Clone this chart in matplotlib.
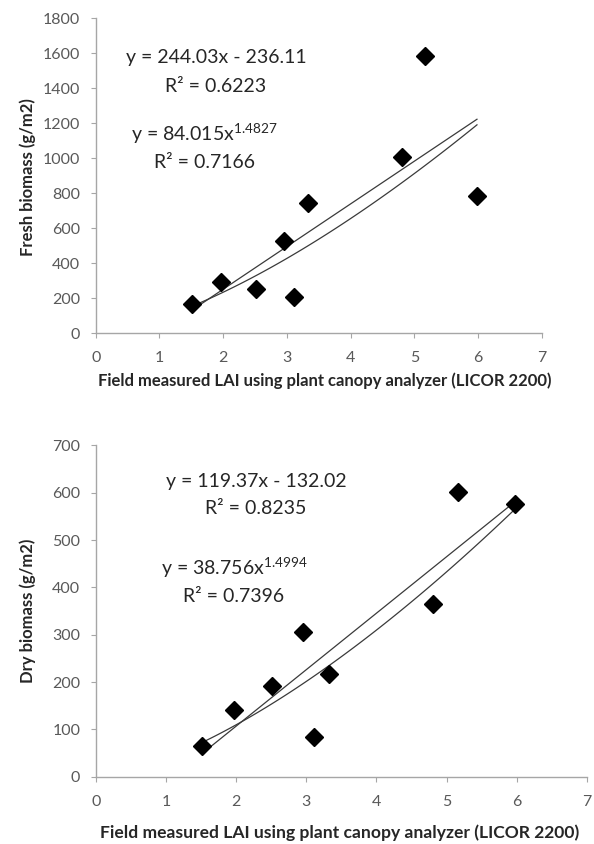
import numpy as np
import matplotlib
matplotlib.use("Agg")
import matplotlib.pyplot as plt

plt.rcParams["font.family"] = ["Lato", "DejaVu Sans"]
plt.rcParams["mathtext.fontset"] = "custom"
plt.rcParams["mathtext.rm"] = "Lato"
plt.rcParams["mathtext.it"] = "Lato"

# Field measured LAI (same plots in both panels)
lai = [1.51, 1.97, 2.51, 2.96, 3.11, 3.33, 4.80, 5.16, 5.98]
fresh = [168, 291, 255, 528, 206, 747, 1006, 1585, 785]
dry = [65, 141, 192, 306, 83, 218, 365, 602, 577]

# trend lines as printed on the chart: (a, b, R2)
fresh_lin = (244.03, -236.11, 0.6223)
fresh_pow = (84.015, 1.4827, 0.7166)
dry_lin = (119.37, -132.02, 0.8235)
dry_pow = (38.756, 1.4994, 0.7396)

xlabel = "Field measured LAI using plant canopy analyzer (LICOR 2200)"

W, H = 594, 844
fig = plt.figure(figsize=(W / 100, H / 100), dpi=100)


def px_axes(x0, x1, y0, y1):
    # pixel box -> figure fraction
    return fig.add_axes([x0 / W, 1 - y1 / H, (x1 - x0) / W, (y1 - y0) / H])


def ftext(x, y, s, **kw):
    return fig.text(x / W, 1 - y / H, s, ha="center", va="center", **kw)


def panel(ax, y, lin, pw, ymax, ystep, eq_pos):
    x = np.array(lai)
    xs = np.linspace(x.min(), x.max(), 100)
    ax.plot(xs, lin[0] * xs + lin[1], color="#3a3a3a", lw=0.9)
    ax.plot(xs, pw[0] * xs ** pw[1], color="#3a3a3a", lw=0.9)
    ax.plot(x, y, linestyle="none", marker="D", markersize=9, color="black")
    ax.set_xlim(0, 7)
    ax.set_ylim(0, ymax)
    ax.set_xticks(range(0, 8))
    ax.set_yticks(np.arange(0, ymax + 1, ystep))
    for s in ("top", "right"):
        ax.spines[s].set_visible(False)
    for s in ("left", "bottom"):
        ax.spines[s].set_color("#a6a6a6")
        ax.spines[s].set_linewidth(1.0)
    ax.tick_params(direction="out", length=3.6, color="#a6a6a6", labelsize=11.5,
                   labelcolor="#595959")
    ax.tick_params(axis="y", pad=7.5)
    ax.tick_params(axis="x", pad=9.5)

    (ex1, ey1), (ex2, ey2) = eq_pos
    kw = dict(fontsize=14, color="#262626")
    ftext(ex1, ey1, "y = {:.2f}x - {:.2f}".format(lin[0], -lin[1]), **kw)
    ftext(ex1, ey1 + 28, "R² = {:.4f}".format(lin[2]), **kw)
    ftext(ex2, ey2, "y = {}x$^{{{}}}$".format(pw[0], pw[1]), **kw)
    ftext(ex2, ey2 + 28, "R² = {:.4f}".format(pw[2]), **kw)


ax1 = px_axes(95.7, 542, 18.3, 333.3)
panel(ax1, fresh, fresh_lin, fresh_pow, 1800, 200, [(216, 58), (204, 134)])
ax2 = px_axes(95.7, 587, 445.4, 776.7)
panel(ax2, dry, dry_lin, dry_pow, 700, 100, [(256, 481), (234, 568)])

lab = dict(fontweight="bold", color="#262626")
ftext(325, 381, xlabel, fontsize=12, **lab)
ftext(340, 833, xlabel, fontsize=12.6, **lab)
ftext(28, 177, "Fresh biomass (g/m2)", fontsize=12, rotation=90, **lab)
ftext(28, 611, "Dry biomass (g/m2)", fontsize=12, rotation=90, **lab)

fig.savefig("out.png", dpi=100, facecolor="white")
